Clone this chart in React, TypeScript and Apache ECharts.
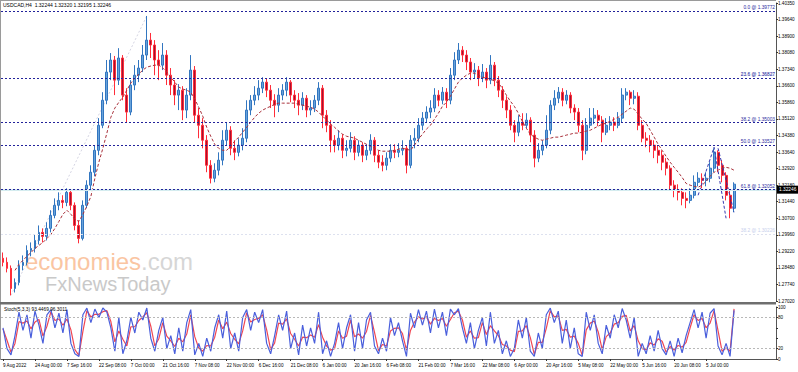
import React, { useEffect, useRef } from 'react';
import * as echarts from 'echarts';

const symbolTitle = 'USDCAD,H4  1.32244 1.32320 1.32195 1.32246';
const stochTitle = 'Stoch(5,3,3) 93.4469 96.3011';

const dateLabels = ['9 Aug 2022','24 Aug 00:00','7 Sep 16:00','22 Sep 08:00','7 Oct 00:00','21 Oct 16:00','7 Nov 08:00','22 Nov 00:00','6 Dec 16:00','21 Dec 08:00','6 Jan 00:00','20 Jan 16:00','6 Feb 08:00','21 Feb 00:00','7 Mar 16:00','22 Mar 08:00','6 Apr 00:00','20 Apr 16:00','5 May 08:00','22 May 00:00','5 Jun 16:00','20 Jun 08:00','5 Jul 00:00'];

const yTickLabels = ['1.27020','1.27740','1.28480','1.29220','1.29960','1.30700','1.31440','1.32180','1.32920','1.33640','1.34380','1.35120','1.35860','1.36600','1.37340','1.38080','1.38900','1.39640','1.40350'];
const stochTickLabels = ['0','20','','','80','100'];

const opens = [
1.2893,1.2875,1.2848,1.2758,1.2785,1.2861,1.2875,1.2928,1.2937,1.2973,
1.3009,1.2991,1.3027,1.3085,1.3130,1.3152,1.3143,1.3188,1.3130,1.3040,
1.2982,1.3130,1.3220,1.3278,1.3376,1.3488,1.3600,1.3726,1.3780,1.3690,
1.3789,1.3623,1.3547,1.3668,1.3712,1.3744,1.3802,1.3869,1.3847,1.3780,
1.3757,1.3802,1.3712,1.3668,1.3623,1.3645,1.3556,1.3623,1.3735,1.3533,
1.3488,1.3421,1.3309,1.3251,1.3287,1.3332,1.3421,1.3466,1.3385,1.3367,
1.3399,1.3430,1.3556,1.3600,1.3623,1.3654,1.3681,1.3645,1.3600,1.3578,
1.3623,1.3645,1.3681,1.3623,1.3600,1.3578,1.3609,1.3556,1.3565,1.3600,
1.3654,1.3533,1.3488,1.3421,1.3399,1.3430,1.3376,1.3385,1.3421,1.3367,
1.3399,1.3354,1.3376,1.3421,1.3354,1.3323,1.3309,1.3341,1.3376,1.3367,
1.3376,1.3385,1.3309,1.3421,1.3430,1.3488,1.3520,1.3547,1.3565,1.3623,
1.3600,1.3636,1.3600,1.3712,1.3780,1.3824,1.3802,1.3771,1.3726,1.3735,
1.3699,1.3726,1.3690,1.3757,1.3690,1.3645,1.3600,1.3556,1.3488,1.3457,
1.3502,1.3488,1.3511,1.3444,1.3341,1.3376,1.3399,1.3466,1.3578,1.3609,
1.3636,1.3600,1.3623,1.3565,1.3547,1.3488,1.3376,1.3488,1.3520,1.3533,
1.3511,1.3457,1.3488,1.3502,1.3488,1.3520,1.3623,1.3636,1.3609,1.3618,
1.3488,1.3430,1.3421,1.3399,1.3376,1.3354,1.3323,1.3296,1.3220,1.3197,
1.3188,1.3161,1.3152,1.3175,1.3233,1.3251,1.3242,1.3251,1.3296,1.3367,
1.3309,1.3264,1.3175,1.3117];

const closes = [
1.2875,1.2848,1.2758,1.2785,1.2861,1.2875,1.2928,1.2937,1.2973,1.3009,
1.2991,1.3027,1.3085,1.3130,1.3152,1.3143,1.3188,1.3130,1.3040,1.2982,
1.3130,1.3220,1.3278,1.3376,1.3488,1.3600,1.3726,1.3780,1.3690,1.3789,
1.3623,1.3547,1.3668,1.3712,1.3744,1.3802,1.3869,1.3847,1.3780,1.3757,
1.3802,1.3712,1.3668,1.3623,1.3645,1.3556,1.3623,1.3735,1.3533,1.3488,
1.3421,1.3309,1.3251,1.3287,1.3332,1.3421,1.3466,1.3385,1.3367,1.3399,
1.3430,1.3556,1.3600,1.3623,1.3654,1.3681,1.3645,1.3600,1.3578,1.3623,
1.3645,1.3681,1.3623,1.3600,1.3578,1.3609,1.3556,1.3565,1.3600,1.3654,
1.3533,1.3488,1.3421,1.3399,1.3430,1.3376,1.3385,1.3421,1.3367,1.3399,
1.3354,1.3376,1.3421,1.3354,1.3323,1.3309,1.3341,1.3376,1.3367,1.3376,
1.3385,1.3309,1.3421,1.3430,1.3488,1.3520,1.3547,1.3565,1.3623,1.3600,
1.3636,1.3600,1.3712,1.3780,1.3824,1.3802,1.3771,1.3726,1.3735,1.3699,
1.3726,1.3690,1.3757,1.3690,1.3645,1.3600,1.3556,1.3488,1.3457,1.3502,
1.3488,1.3511,1.3444,1.3341,1.3376,1.3399,1.3466,1.3578,1.3609,1.3636,
1.3600,1.3623,1.3565,1.3547,1.3488,1.3376,1.3488,1.3520,1.3533,1.3511,
1.3457,1.3488,1.3502,1.3488,1.3520,1.3623,1.3636,1.3609,1.3618,1.3488,
1.3430,1.3421,1.3399,1.3376,1.3354,1.3323,1.3296,1.3220,1.3197,1.3188,
1.3161,1.3152,1.3175,1.3233,1.3251,1.3242,1.3251,1.3296,1.3367,1.3309,
1.3264,1.3175,1.3117,1.32246];

const highs = [
1.2919,1.2897,1.2861,1.2803,1.2884,1.2906,1.2951,1.2964,1.3000,1.3040,
1.3027,1.3054,1.3108,1.3161,1.3188,1.3175,1.3206,1.3197,1.3143,1.3063,
1.3152,1.3242,1.3309,1.3399,1.3520,1.3636,1.3780,1.3811,1.3798,1.3833,
1.3802,1.3654,1.3690,1.3757,1.3780,1.3847,1.3977,1.3901,1.3869,1.3824,
1.3856,1.3824,1.3744,1.3690,1.3672,1.3663,1.3654,1.3802,1.3753,1.3565,
1.3520,1.3444,1.3332,1.3318,1.3367,1.3466,1.3502,1.3484,1.3421,1.3430,
1.3475,1.3600,1.3623,1.3663,1.3690,1.3703,1.3699,1.3668,1.3627,1.3654,
1.3672,1.3703,1.3690,1.3645,1.3632,1.3636,1.3623,1.3600,1.3623,1.3681,
1.3668,1.3556,1.3511,1.3444,1.3466,1.3448,1.3421,1.3457,1.3439,1.3421,
1.3412,1.3403,1.3448,1.3435,1.3376,1.3354,1.3367,1.3403,1.3403,1.3408,
1.3421,1.3399,1.3444,1.3475,1.3520,1.3547,1.3573,1.3600,1.3654,1.3645,
1.3659,1.3654,1.3744,1.3815,1.3856,1.3842,1.3824,1.3789,1.3766,1.3753,
1.3762,1.3744,1.3802,1.3771,1.3708,1.3663,1.3618,1.3578,1.3511,1.3533,
1.3542,1.3542,1.3524,1.3466,1.3408,1.3421,1.3533,1.3600,1.3645,1.3659,
1.3654,1.3645,1.3636,1.3582,1.3565,1.3511,1.3520,1.3565,1.3565,1.3556,
1.3529,1.3520,1.3529,1.3524,1.3547,1.3654,1.3654,1.3645,1.3645,1.3636,
1.3511,1.3457,1.3444,1.3421,1.3399,1.3376,1.3341,1.3309,1.3242,1.3224,
1.3206,1.3188,1.3206,1.3264,1.3278,1.3273,1.3278,1.3323,1.3385,1.3376,
1.3332,1.3278,1.3197,1.3233];

const lows = [
1.2857,1.2830,1.2727,1.2740,1.2772,1.2839,1.2861,1.2902,1.2919,1.2955,
1.2964,1.2973,1.3009,1.3072,1.3108,1.3117,1.3126,1.3108,1.3018,1.2960,
1.2973,1.3117,1.3197,1.3260,1.3354,1.3475,1.3582,1.3690,1.3623,1.3668,
1.3600,1.3502,1.3533,1.3645,1.3681,1.3726,1.3780,1.3789,1.3712,1.3690,
1.3735,1.3668,1.3623,1.3578,1.3556,1.3511,1.3520,1.3600,1.3502,1.3430,
1.3385,1.3278,1.3228,1.3233,1.3264,1.3309,1.3399,1.3354,1.3332,1.3349,
1.3376,1.3412,1.3533,1.3578,1.3600,1.3632,1.3614,1.3565,1.3524,1.3547,
1.3600,1.3618,1.3591,1.3565,1.3533,1.3556,1.3524,1.3533,1.3547,1.3578,
1.3475,1.3457,1.3367,1.3367,1.3376,1.3341,1.3349,1.3367,1.3332,1.3349,
1.3323,1.3332,1.3358,1.3323,1.3296,1.3282,1.3287,1.3323,1.3341,1.3345,
1.3354,1.3273,1.3296,1.3385,1.3412,1.3466,1.3502,1.3520,1.3547,1.3573,
1.3582,1.3565,1.3582,1.3690,1.3762,1.3771,1.3735,1.3690,1.3699,1.3663,
1.3681,1.3654,1.3672,1.3663,1.3614,1.3565,1.3520,1.3466,1.3412,1.3439,
1.3466,1.3475,1.3412,1.3300,1.3323,1.3354,1.3385,1.3448,1.3556,1.3587,
1.3573,1.3582,1.3542,1.3511,1.3457,1.3332,1.3358,1.3475,1.3493,1.3484,
1.3412,1.3444,1.3466,1.3462,1.3475,1.3502,1.3600,1.3578,1.3582,1.3466,
1.3412,1.3390,1.3367,1.3341,1.3318,1.3287,1.3264,1.3197,1.3166,1.3152,
1.3130,1.3117,1.3139,1.3161,1.3215,1.3206,1.3215,1.3233,1.3278,1.3278,
1.3233,1.3152,1.3072,1.3099];

const movingAverage = [
null,null,null,1.2839,1.2866,1.2884,1.2902,1.2919,1.2937,1.2951,
1.2964,1.2982,1.3000,1.3027,1.3058,1.3090,1.3108,1.3090,1.3067,1.3058,
1.3090,1.3126,1.3170,1.3251,1.3323,1.3385,1.3453,1.3524,1.3565,1.3591,
1.3614,1.3645,1.3677,1.3699,1.3717,1.3735,1.3748,1.3753,1.3757,1.3757,
1.3744,1.3726,1.3703,1.3681,1.3659,1.3650,1.3645,1.3636,1.3605,1.3569,
1.3529,1.3479,1.3439,1.3403,1.3385,1.3376,1.3376,1.3394,1.3417,1.3435,
1.3457,1.3479,1.3502,1.3524,1.3542,1.3556,1.3565,1.3573,1.3582,1.3587,
1.3587,1.3587,1.3587,1.3587,1.3582,1.3578,1.3573,1.3569,1.3560,1.3547,
1.3529,1.3511,1.3493,1.3479,1.3462,1.3448,1.3439,1.3435,1.3430,1.3421,
1.3412,1.3403,1.3394,1.3385,1.3376,1.3372,1.3372,1.3372,1.3376,1.3381,
1.3385,1.3381,1.3376,1.3399,1.3426,1.3448,1.3471,1.3488,1.3515,1.3542,
1.3573,1.3591,1.3618,1.3650,1.3681,1.3699,1.3712,1.3721,1.3721,1.3712,
1.3703,1.3699,1.3695,1.3686,1.3677,1.3654,1.3623,1.3596,1.3573,1.3542,
1.3506,1.3475,1.3448,1.3435,1.3426,1.3421,1.3426,1.3430,1.3435,1.3435,
1.3439,1.3444,1.3448,1.3453,1.3453,1.3457,1.3462,1.3466,1.3475,1.3484,
1.3493,1.3497,1.3506,1.3515,1.3524,1.3538,1.3551,1.3565,1.3560,1.3538,
1.3515,1.3497,1.3466,1.3435,1.3403,1.3376,1.3349,1.3323,1.3300,1.3278,
1.3255,1.3228,1.3220,1.3215,1.3211,1.3220,1.3237,1.3260,1.3278,1.3287,
1.3296,1.3300,1.3296,1.3287];

const stochMain = [
60,20,8,45,90,55,85,40,92,65,
30,85,95,60,88,50,95,30,10,5,
85,98,70,96,80,98,90,60,15,80,
10,35,80,50,90,75,98,40,15,55,
80,20,45,10,60,15,70,95,8,30,
5,40,15,60,85,40,92,20,50,15,
80,95,55,90,70,95,30,10,45,85,
55,92,20,50,8,65,25,60,30,90,
10,35,5,30,70,20,60,85,15,70,
20,75,90,25,10,40,15,80,45,70,
35,5,88,60,95,65,92,50,96,60,
90,45,96,85,97,60,30,70,20,55,
80,25,90,30,55,10,35,5,20,75,
40,80,15,5,50,20,85,98,70,92,
30,75,20,60,10,5,90,55,85,30,
10,65,40,85,60,97,75,40,80,5,
30,10,45,15,55,20,8,35,5,40,
12,45,70,95,60,90,40,88,97,25,
8,30,5,93.4469];

const stochSignal = [
58,36,13,30,72,69,73,58,71,76,
44,63,91,74,77,65,77,56,18,7,
53,93,81,86,86,91,93,72,33,54,
38,25,62,62,74,81,89,63,25,39,
70,44,35,24,40,33,48,85,43,21,
15,26,25,42,75,58,71,49,38,29,
54,89,71,76,78,85,56,18,31,69,
67,77,49,38,25,42,41,46,42,66,
42,25,17,20,54,40,44,75,43,48,
40,53,84,51,16,28,25,54,59,60,
49,17,55,71,81,77,81,67,78,74,
78,63,76,89,92,75,42,54,40,41,
70,47,64,54,45,28,25,17,14,53,
54,64,41,9,32,32,59,93,81,83,
55,57,42,44,30,7,56,69,73,52,
18,43,50,67,70,82,84,54,64,35,
20,18,31,27,39,34,13,24,17,26,
23,32,60,85,74,78,60,69,93,54,
15,21,15,96.3011];

const fibLevels = [0.0, 23.6, 38.2, 50.0, 61.8, 100.0];
const fibPrices = [1.39772, 1.36827, 1.35003, 1.33527, 1.32052, 1.27277];
const faintFibLevels = [61.8, 38.2];
const faintFibPrices = [1.36542, 1.30226];
const lastPrice = 1.32246;
const stochLevels = [80, 20];

// fib trend line (swing low -> swing high) and the small descending channel
const fibTrend = [[2, 1.27277], [36, 1.39772]];
const channelA = [[174, 1.3175], [178, 1.3390], [181, 1.3072]];
const channelB = [[179, 1.3385], [183, 1.3099]];

const TOTAL_SLOTS = 194;
const Y_MIN = 1.2702;
const Y_MAX = 1.4035;

export default function App() {
  const ref = useRef<HTMLDivElement>(null);
  useEffect(() => {
    if (!ref.current) return;
    const chart = echarts.init(ref.current, undefined, { renderer: 'svg' });
    const cats = Array.from({ length: TOTAL_SLOTS }, (_, i) => String(i));
    const yStep = (Y_MAX - Y_MIN) / (yTickLabels.length - 1);
    const labelIdx = (i: number) => i % 8 === 0 && i / 8 < dateLabels.length;
    const candles = opens.map((o, i) => [o, closes[i], lows[i], highs[i]]);
    const font = 'Liberation Sans';

    const fibMarks: any[] = fibLevels.map((lv, k) => ({
      yAxis: fibPrices[k],
      lineStyle: { color: '#22229a', type: [2, 2], width: 1 },
      label: {
        show: true, position: 'insideEndTop', distance: 1,
        formatter: `${lv.toFixed(1)} @ ${fibPrices[k].toFixed(5)}`,
        fontSize: 4.8, color: '#2a2aa0', fontFamily: font,
      },
    }));
    const faintMarks: any[] = faintFibLevels.map((lv, k) => ({
      yAxis: faintFibPrices[k],
      lineStyle: { color: '#dde1ef', type: [2, 2], width: 1 },
      label: {
        show: true, position: 'insideEndTop', distance: 1,
        formatter: `${lv.toFixed(1)} @ ${faintFibPrices[k].toFixed(5)}`,
        fontSize: 4.8, color: '#c8cfec', fontFamily: font,
      },
    }));
    const priceMark: any = {
      yAxis: lastPrice,
      lineStyle: { color: '#d4ecef', type: 'solid', width: 2 },
      label: {
        show: true, position: 'end', distance: 1,
        formatter: lastPrice.toFixed(5),
        fontSize: 4.8, color: '#fff', backgroundColor: '#000',
        padding: [2, 2, 1, 2], fontFamily: font,
      },
    };

    chart.setOption({
      animation: false,
      backgroundColor: '#ffffff',
      textStyle: { fontFamily: font },
      grid: [
        { left: 1, right: 22, top: 3, height: 298 },
        { left: 1, right: 22, top: 307, height: 52 },
      ],
      xAxis: [
        {
          type: 'category', gridIndex: 0, data: cats, boundaryGap: true,
          axisLine: { show: false }, axisTick: { show: false },
          axisLabel: { show: false }, splitLine: { show: false },
        },
        {
          type: 'category', gridIndex: 1, data: cats, boundaryGap: true,
          axisLine: { show: true, lineStyle: { color: '#555', width: 1 } },
          axisTick: { show: true, interval: (i: number) => labelIdx(i), alignWithLabel: true, length: 2, lineStyle: { color: '#333' } },
          axisLabel: {
            show: true, interval: (i: number) => labelIdx(i),
            formatter: (_v: string, i: number) => dateLabels[Math.round(i / 8)] ?? '',
            fontSize: 4.6, color: '#000', align: 'left', margin: 4,
          },
          splitLine: { show: false },
        },
      ],
      yAxis: [
        {
          type: 'value', gridIndex: 0, position: 'right', min: Y_MIN, max: Y_MAX, interval: yStep,
          axisLine: { show: true, lineStyle: { color: '#555' } },
          axisTick: { show: true, length: 2, lineStyle: { color: '#333' } },
          axisLabel: {
            fontSize: 4.6, color: '#000', margin: 2,
            formatter: (v: number) => yTickLabels[Math.round((v - Y_MIN) / yStep)] ?? '',
          },
          splitLine: { show: false },
        },
        {
          type: 'value', gridIndex: 1, position: 'right', min: 0, max: 100, interval: 20,
          axisLine: { show: true, lineStyle: { color: '#555' } },
          axisTick: { show: true, length: 2, lineStyle: { color: '#333' } },
          axisLabel: {
            fontSize: 4.6, color: '#000', margin: 2,
            formatter: (v: number) => stochTickLabels[Math.round(v / 20)] ?? '',
          },
          splitLine: { show: false },
        },
      ],
      series: [
        {
          type: 'line', xAxisIndex: 0, yAxisIndex: 0, data: fibTrend,
          symbol: 'none', silent: true, z: 1,
          lineStyle: { color: '#d4d4e2', width: 1, type: [2, 2] },
        },
        {
          type: 'candlestick', xAxisIndex: 0, yAxisIndex: 0, data: candles,
          barWidth: 2.4, z: 3,
          itemStyle: {
            color: '#6aa3da', borderColor: '#3276c0',
            color0: '#a3122e', borderColor0: '#ff2d3a', borderWidth: 1,
          },
          markLine: {
            symbol: ['none', 'none'], silent: true, animation: false,
            data: [priceMark, ...faintMarks, ...fibMarks],
          },
        },
        {
          type: 'line', xAxisIndex: 0, yAxisIndex: 0, data: movingAverage,
          symbol: 'none', silent: true, z: 4,
          lineStyle: { color: '#a8303a', width: 1, type: [3, 2] },
        },
        {
          type: 'line', xAxisIndex: 0, yAxisIndex: 0, data: channelA,
          symbol: 'none', silent: true, z: 4,
          lineStyle: { color: '#3838b0', width: 1, type: [3, 2] },
        },
        {
          type: 'line', xAxisIndex: 0, yAxisIndex: 0, data: channelB,
          symbol: 'none', silent: true, z: 4,
          lineStyle: { color: '#3838b0', width: 1, type: [3, 2] },
        },
        {
          type: 'line', xAxisIndex: 1, yAxisIndex: 1, data: stochSignal,
          symbol: 'none', silent: true, z: 3,
          lineStyle: { color: '#f04652', width: 1.2 },
          markLine: {
            symbol: ['none', 'none'], silent: true, animation: false,
            label: { show: false },
            lineStyle: { color: '#b8b8b8', type: [2, 2], width: 1 },
            data: stochLevels.map((v) => ({ yAxis: v })),
          },
        },
        {
          type: 'line', xAxisIndex: 1, yAxisIndex: 1, data: stochMain,
          symbol: 'none', silent: true, z: 4,
          lineStyle: { color: '#4a5fdc', width: 1.2 },
        },
      ],
      graphic: [
        { type: 'line', z: 10, shape: { x1: 0, y1: 0.5, x2: 776, y2: 0.5 }, style: { stroke: '#9a9a9a', lineWidth: 1 } },
        { type: 'line', z: 10, shape: { x1: 0.5, y1: 0, x2: 0.5, y2: 360 }, style: { stroke: '#9a9a9a', lineWidth: 1 } },
        { type: 'rect', z: 10, shape: { x: 0, y: 302, width: 776, height: 2.5 }, style: { fill: '#6e6e6e' } },
        {
          type: 'text', z: 10, left: 3, top: 2,
          style: { text: symbolTitle, fontSize: 5, fill: '#000', fontFamily: font },
        },
        {
          type: 'text', z: 10, left: 4, top: 307,
          style: { text: stochTitle, fontSize: 4.8, fill: '#000', fontFamily: font },
        },
        {
          type: 'text', z: 0, left: 25, top: 249,
          style: {
            text: '{a|economies}{b|.com}', fontFamily: font,
            rich: {
              a: { fontSize: 24, fill: '#fac5a2', fontFamily: font },
              b: { fontSize: 24, fill: '#d6d6d6', fontFamily: font },
            },
          } as any,
        },
        {
          type: 'text', z: 0, left: 45, top: 274,
          style: { text: 'FxNewsToday', fontSize: 20, fill: '#c9c9c9', fontFamily: font },
        },
      ],
    });
    return () => chart.dispose();
  }, []);
  return (
    <div
      ref={ref}
      style={{ position: 'absolute', left: 0, top: 0, width: 798, height: 372, background: '#fff' }}
    />
  );
}
